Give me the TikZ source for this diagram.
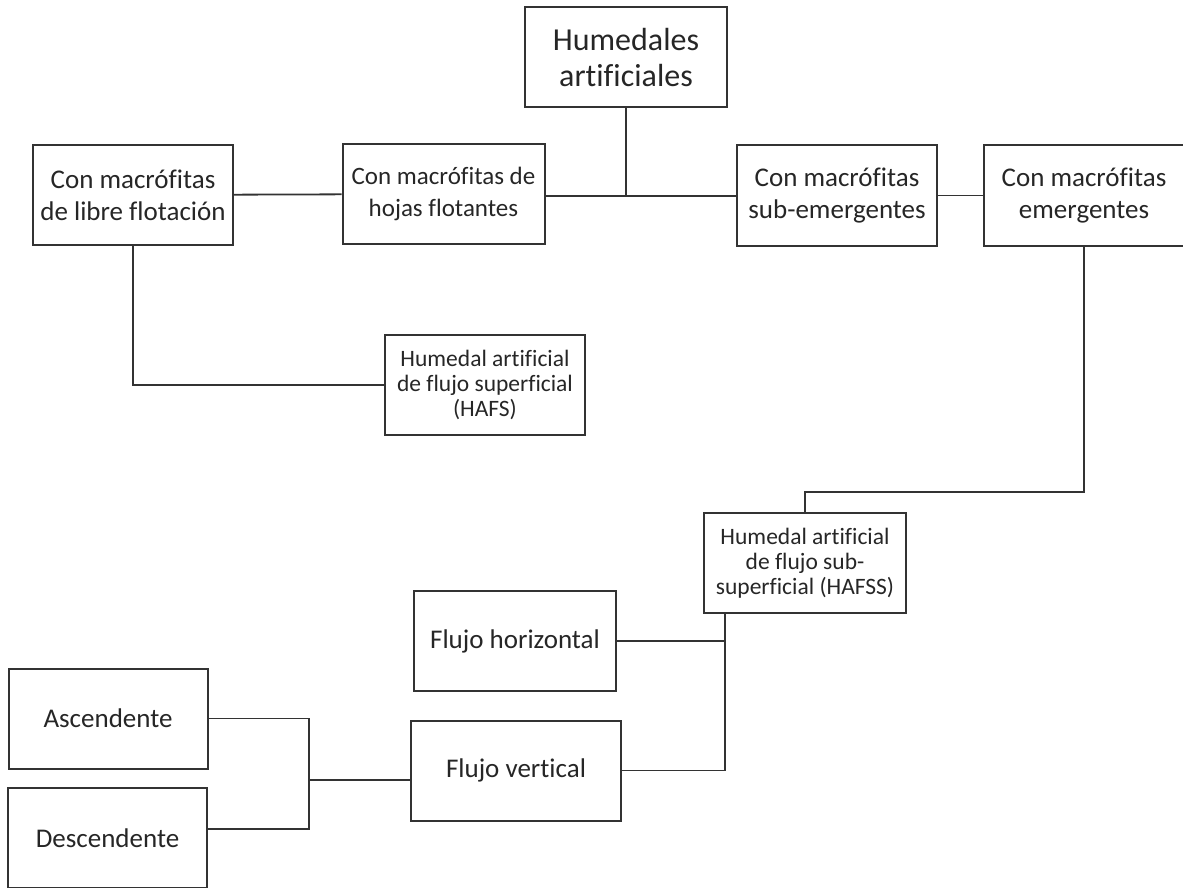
\documentclass[tikz,border=0pt]{standalone}
\usepackage{fontspec}
\setmainfont{Carlito}[Ligatures=NoCommon]
\usetikzlibrary{positioning,calc}

\begin{document}
\begin{tikzpicture}[x=1pt, y=-1pt,
  box/.style={draw=black!80, line width=2pt, align=center, inner sep=2pt,
    minimum width=200, minimum height=100, text=black!85,
    font=\fontsize{27}{32}\selectfont},
  smallbox/.style={box, font=\fontsize{23.5}{25}\selectfont},
  link/.style={draw=black!80, line width=1.8pt}]
  \useasboundingbox (0,0) rectangle (1183,888);

  \node[box, minimum width=202, font=\fontsize{32}{36}\selectfont] (top) at (626,57.5) {Humedales\\artificiales};
  \node[box] (libre) at (133,195) {Con macrófitas\\de libre flotación};
  \node[box, minimum width=202, font=\fontsize{25}{32}\selectfont] (hojas) at (443.5,194) {Con macrófitas de\\hojas flotantes};
  \node[box] (subem) at (837,195.5) {Con macrófitas\\sub-emergentes};
  \node[box, minimum width=201] (emerg) at (1084,195.5) {Con macrófitas\\emergentes};

  \node[smallbox] (hafs) at (485,385) {Humedal artificial\\de flujo superficial\\(HAFS)};
  \node[smallbox, minimum width=202] (hafss) at (805,563) {Humedal artificial\\de flujo sub-\\superficial (HAFSS)};

  \node[box, minimum width=202] (fhor) at (515,641) {Flujo horizontal};
  \node[box, minimum width=210] (fver) at (516,770.5) {Flujo vertical};
  \node[box, minimum width=199] (asc) at (108,718.5) {Ascendente};
  \node[box, minimum width=199] (desc) at (107.5,838) {Descendente};

  \coordinate (join) at (top.south |- 0,196);
  \coordinate (stem) at (725,613);
  \coordinate (fork) at (309,780);

  \draw[link] (libre) -- (hojas);
  \draw[link] (top) -- (join);
  \draw[link, line width=2.8pt] (hojas.east |- join) -- (join);
  \draw[link] (join) -- (join -| subem.west);
  \draw[link] (subem) -- (emerg);
  \draw[link] (libre.south) |- (hafs.west);
  \draw[link] (emerg.south) |- ($(hafss.north)+(0,-20)$) -- (hafss.north);
  \draw[link] (fhor.east) -- (fhor.east -| stem);
  \draw[link] (stem) |- (fver.east);
  \draw[link] (asc.east) -| (fork);
  \draw[link] ($(desc.east)+(0,-9)$) -| (fork);
  \draw[link] (fork) -- (fork -| fver.west);
\end{tikzpicture}
\end{document}
